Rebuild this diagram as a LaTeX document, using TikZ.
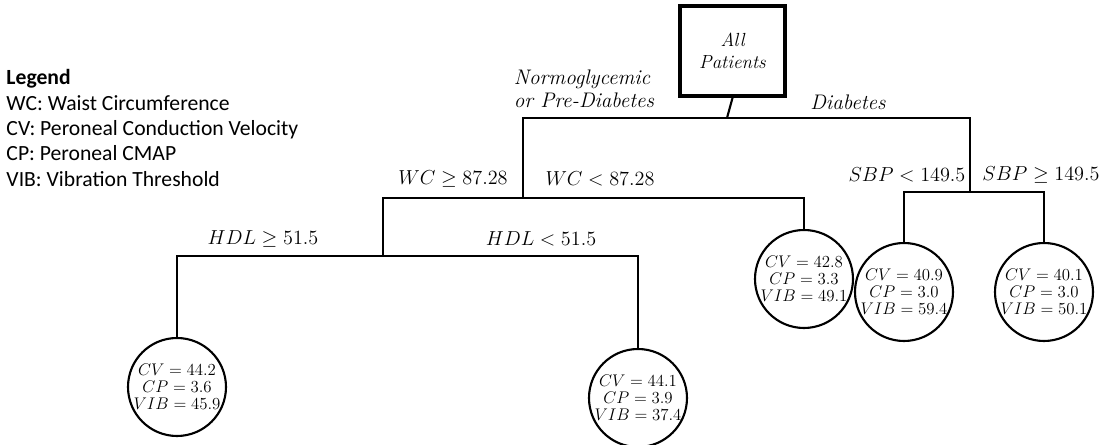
\documentclass[tikz,border=0pt]{standalone}
\usepackage{fontspec}
\usepackage{amssymb}
\newfontfamily\legendfont{Carlito}
\usetikzlibrary{positioning}

\begin{document}
\begin{tikzpicture}[
    every node/.style={inner sep=1pt},
    rootbox/.style={draw, line width=2.8pt, minimum width=2.625cm, minimum height=2.25cm, align=center, font=\fontsize{13.5}{16}\selectfont\itshape},
    leaf/.style={draw, circle, line width=1.5pt, minimum size=2.15cm, inner sep=0pt, align=center, font=\fontsize{12}{12}\selectfont},
    cond/.style={font=\fontsize{14}{16}\selectfont},
    group/.style={font=\fontsize{15}{16.5}\selectfont\itshape, align=left},
    branch/.style={line width=1.5pt},
    legend/.style={font=\fontsize{15.4}{18}\selectfont\legendfont, align=left, anchor=north west},
]
\useasboundingbox (0,0) rectangle (27.725,-11.125);

% legend
\node[legend] (key) at (0.12,-1.7) {\textbf{Legend}\\WC: Waist Circumference\\CV: Peroneal Conduction Velocity\\CP: Peroneal CMAP\\VIB: Vibration Threshold};

% tree
\node[rootbox] (root) at (18.3125,-1.275) {All\\Patients};
\coordinate (c0) at (18.175,-2.95);
\coordinate (cN) at (13.075,-4.95);
\coordinate (cD) at (24.25,-4.8);
\coordinate (cW) at (9.575,-6.4);

\node[leaf] (lHi) at (4.425,-9.675) {$CV=44.2$\\$CP=3.6$\\$VIB=45.9$};
\node[leaf] (lLo) at (15.95,-9.95) {$CV=44.1$\\$CP=3.9$\\$VIB=37.4$};
\node[leaf] (lWC) at (20.1,-6.975) {$CV=42.8$\\$CP=3.3$\\$VIB=49.1$};
\node[leaf] (lS1) at (22.6,-7.3) {$CV=40.9$\\$CP=3.0$\\$VIB=59.4$};
\node[leaf] (lS2) at (26.1,-7.3) {$CV=40.1$\\$CP=3.0$\\$VIB=50.1$};

% split labels
\node[group] (tNorm) at (14.6,-2.225) {Normoglycemic\\or Pre-Diabetes};
\node[group] (tDiab) at (21.2,-2.55) {Diabetes};
\node[cond] (tWCge) at (11.325,-4.475) {$WC \geq 87.28$};
\node[cond] (tWClt) at (15.0,-4.475) {$WC < 87.28$};
\node[cond] (tHDLge) at (6.575,-5.975) {$HDL \geq 51.5$};
\node[cond] (tHDLlt) at (13.525,-5.975) {$HDL < 51.5$};
\node[cond] (tSBPlt) at (22.675,-4.375) {$SBP < 149.5$};
\node[cond] (tSBPge) at (26.025,-4.375) {$SBP \geq 149.5$};

% connectors
\draw[branch] (root.south) -- (c0);
\draw[branch] (cN) |- (c0) -| (cD);
\draw[branch] (cW) |- (cN) -| (lWC);
\draw[branch] (lHi) |- (cW) -| (lLo);
\draw[branch] (lS1) |- (cD) -| (lS2);
\end{tikzpicture}
\end{document}
